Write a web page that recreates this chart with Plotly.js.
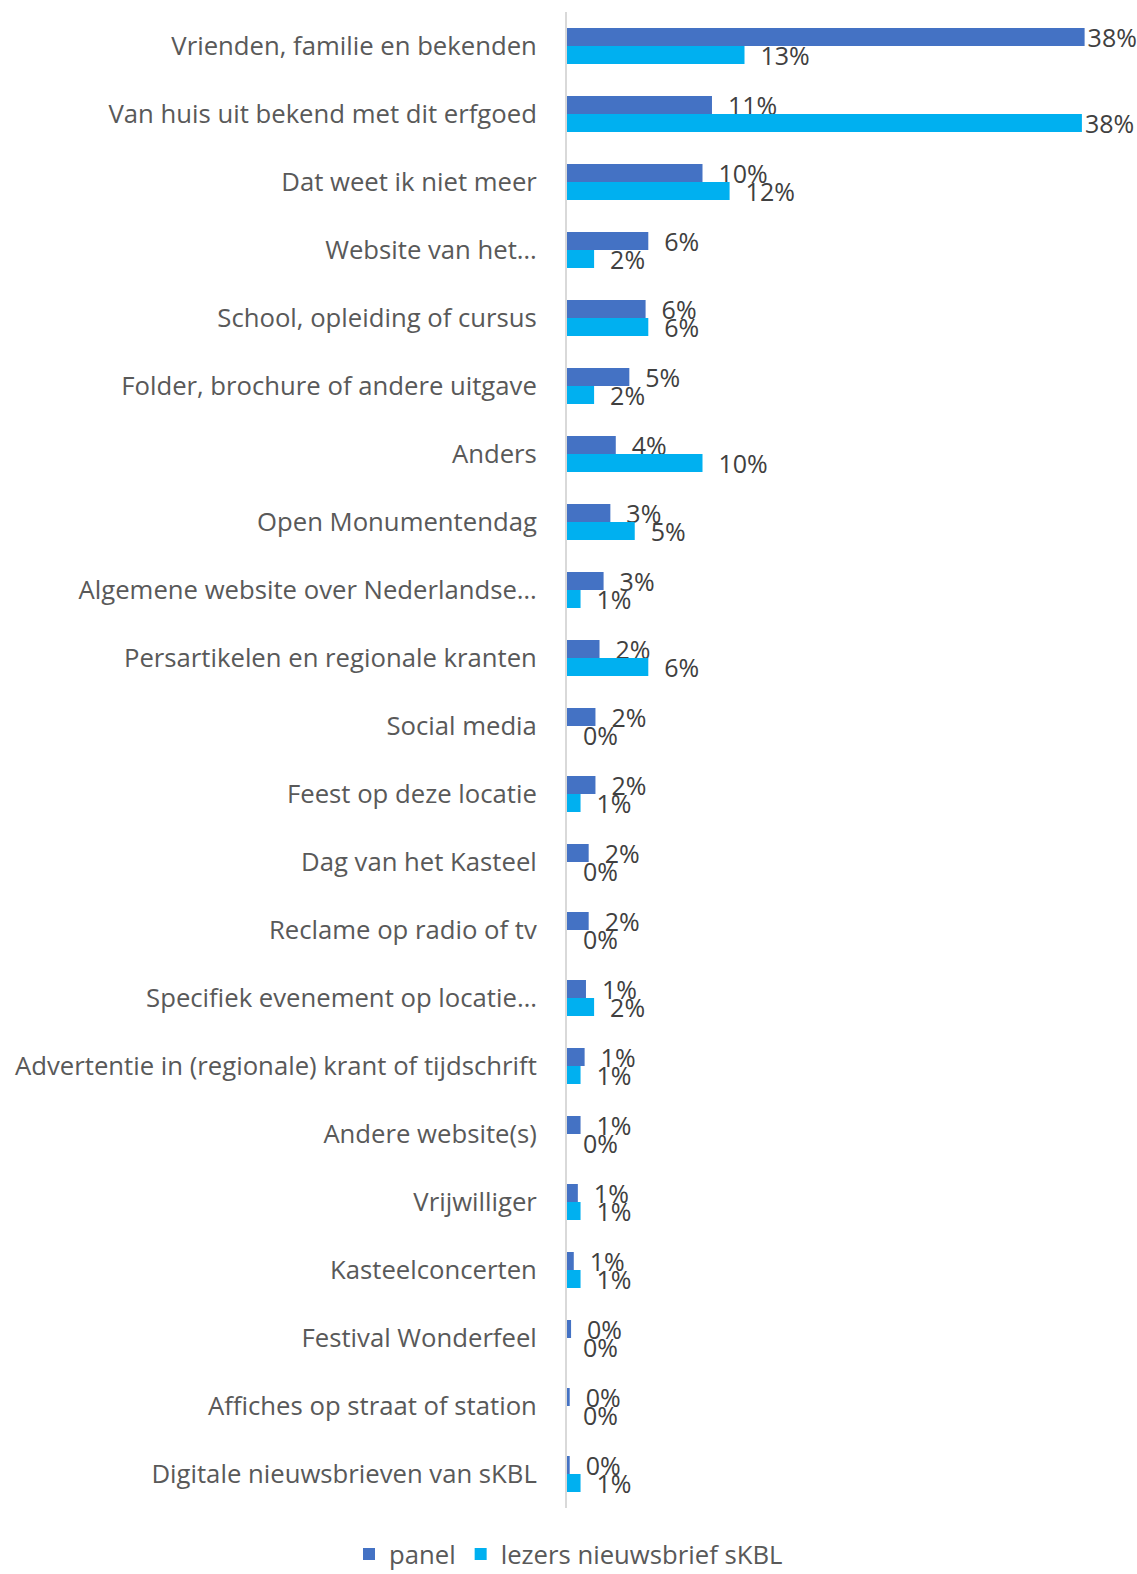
<!DOCTYPE html>
<html>
<head>
<meta charset="utf-8">
<script src="https://cdn.plot.ly/plotly-3.0.1.min.js"></script>
<style>
  html, body { margin: 0; padding: 0; background: #fff; }
  #chart { width: 1137px; height: 1574px; }
</style>
</head>
<body>
<div id="chart"></div>
<script>
const categories = [
  "Vrienden, familie en bekenden",
  "Van huis uit bekend met dit erfgoed",
  "Dat weet ik niet meer",
  "Website van het…",
  "School, opleiding of cursus",
  "Folder, brochure of andere uitgave",
  "Anders",
  "Open Monumentendag",
  "Algemene website over Nederlandse…",
  "Persartikelen en regionale kranten",
  "Social media",
  "Feest op deze locatie",
  "Dag van het Kasteel",
  "Reclame op radio of tv",
  "Specifiek evenement op locatie…",
  "Advertentie in (regionale) krant of tijdschrift",
  "Andere website(s)",
  "Vrijwilliger",
  "Kasteelconcerten",
  "Festival Wonderfeel",
  "Affiches op straat of station",
  "Digitale nieuwsbrieven van sKBL"
];
const seriesNames = ["panel", "lezers nieuwsbrief sKBL"];
// values in percent
const panel = [38.2, 10.7, 10.0, 6.0, 5.8, 4.6, 3.6, 3.2, 2.7, 2.4, 2.1, 2.1, 1.6, 1.6, 1.4, 1.3, 1.0, 0.8, 0.5, 0.3, 0.2, 0.2];
const lezers = [13.1, 38.0, 12.0, 2.0, 6.0, 2.0, 10.0, 5.0, 1.0, 6.0, 0.0, 1.0, 0.0, 0.0, 2.0, 1.0, 0.0, 1.0, 1.0, 0.0, 0.0, 1.0];
const colors = ["#4472C4", "#00B0F0"];

function labels(vals) {
  return vals.map(v => (v > 30 ? "" : "\u00a0\u00a0") + Math.round(v) + "%");
}

const textFont = { family: "Open Sans, sans-serif", size: 25, color: "#404040" };

const traces = [panel, lezers].map((vals, i) => ({
  type: "bar",
  orientation: "h",
  name: seriesNames[i],
  y: categories,
  x: vals,
  marker: { color: colors[i] },
  text: labels(vals),
  textposition: "outside",
  textfont: textFont,
  constraintext: "none",
  cliponaxis: false,
  hoverinfo: "x+y"
}));

const layout = {
  width: 1137,
  height: 1574,
  margin: { l: 567, r: 28, t: 12, b: 66 },
  paper_bgcolor: "#ffffff",
  plot_bgcolor: "#ffffff",
  barmode: "group",
  bargap: 0.47,
  bargroupgap: 0,
  font: { family: "Open Sans, sans-serif", size: 25, color: "#595959" },
  xaxis: {
    range: [0, 40],
    visible: false,
    showgrid: false,
    zeroline: false
  },
  yaxis: {
    type: "category",
    autorange: "reversed",
    showline: true,
    linecolor: "#D9D9D9",
    linewidth: 2,
    ticks: "",
    showgrid: false,
    zeroline: false,
    ticklabelstandoff: 23,
    tickfont: { family: "Open Sans, sans-serif", size: 25.7, color: "#595959" }
  },
  showlegend: true,
  legend: {
    orientation: "h",
    xref: "container",
    yref: "container",
    x: 0.5,
    xanchor: "center",
    y: 0.0125,
    yanchor: "middle",
    font: { family: "Open Sans, sans-serif", size: 25.7, color: "#595959" },
    itemwidth: 30,
    tracegroupgap: 0
  }
};

Plotly.newPlot("chart", traces, layout, { displayModeBar: false, staticPlot: true });
</script>
</body>
</html>
